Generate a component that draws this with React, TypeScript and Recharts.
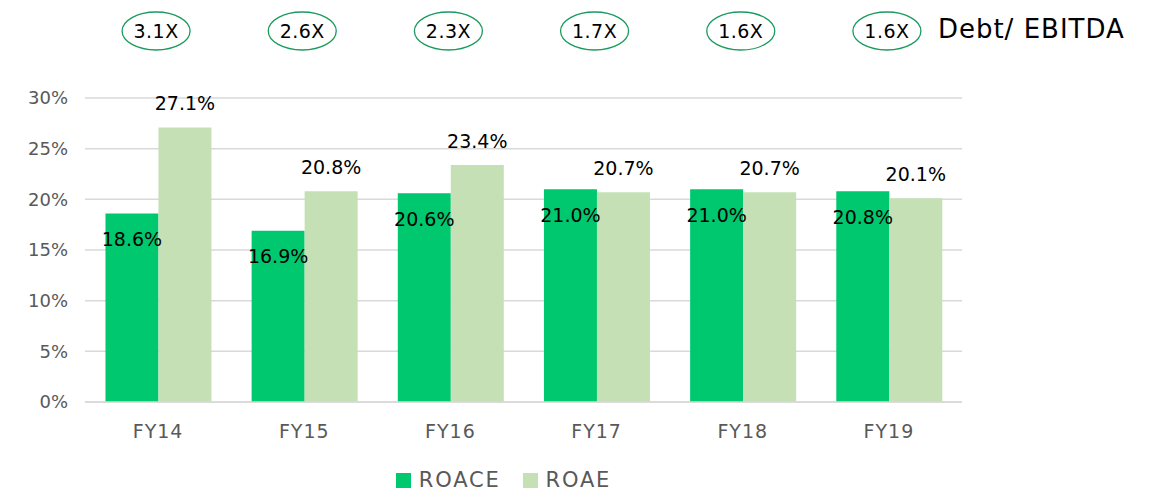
import React from 'react';
import {
  BarChart,
  Bar,
  XAxis,
  YAxis,
  CartesianGrid,
  Legend,
  LabelList,
} from 'recharts';

// fiscal years
const years = ['FY14', 'FY15', 'FY16', 'FY17', 'FY18', 'FY19'];
// return on average capital employed, %
const roace = [18.6, 16.9, 20.6, 21.0, 21.0, 20.8];
// return on average equity, %
const roae = [27.1, 20.8, 23.4, 20.7, 20.7, 20.1];
// net debt / EBITDA multiple shown above each year
const debtEbitda = ['3.1X', '2.6X', '2.3X', '1.7X', '1.6X', '1.6X'];
const yTicks = [0, 5, 10, 15, 20, 25, 30];

const data = years.map((year, i) => ({
  year,
  roace: roace[i],
  roae: roae[i],
  debt: debtEbitda[i],
}));

const GREEN = '#00c86e';
const LIGHT = '#c5e0b4';
const GREY = '#595959';
const FONT = '"DejaVu Sans", Verdana, sans-serif';

const DebtTick = (props: any) => {
  const { x, payload, index } = props;
  const label = debtEbitda[index] ?? '';
  const cx = x - 2;
  return (
    <g>
      <ellipse cx={cx} cy={31} rx={34} ry={19} fill="none" stroke="#1a9a5e" strokeWidth={1.3} />
      <text
        x={cx}
        y={38}
        textAnchor="middle"
        fontFamily={FONT}
        fontSize={19}
        letterSpacing={0.5}
        fill="#000"
      >
        {label}
      </text>
      {index === years.length - 1 && (
        <text
          x={cx + 51}
          y={38}
          fontFamily={FONT}
          fontSize={26}
          letterSpacing={1}
          fill="#000"
        >
          Debt/ EBITDA
        </text>
      )}
      <title>{payload.value}</title>
    </g>
  );
};

const renderLegend = () => (
  <div
    style={{
      display: 'flex',
      justifyContent: 'center',
      alignItems: 'center',
      fontFamily: FONT,
      fontSize: 21,
      letterSpacing: 1.8,
      color: GREY,
      paddingLeft: 45,
      paddingTop: 2,
    }}
  >
    <span style={{ display: 'inline-block', width: 15, height: 15, background: GREEN, marginRight: 8 }} />
    <span style={{ marginRight: 22 }}>ROACE</span>
    <span style={{ display: 'inline-block', width: 15, height: 15, background: LIGHT, marginRight: 8 }} />
    <span>ROAE</span>
  </div>
);

export default function App() {
  return (
    <div style={{ position: 'absolute', left: 0, top: 0, width: 1150, height: 492, background: '#fff' }}>
      <BarChart
        width={1150}
        height={492}
        data={data}
        margin={{ top: 0, right: 188, bottom: 0, left: 0 }}
        barCategoryGap="14%"
        barGap={0}
      >
        <CartesianGrid vertical={false} stroke="#d9d9d9" strokeWidth={1.5} />
        <XAxis
          xAxisId="top"
          orientation="top"
          dataKey="year"
          height={98}
          axisLine={false}
          tickLine={false}
          tick={<DebtTick />}
          interval={0}
        />
        <XAxis
          dataKey="year"
          height={64}
          axisLine={{ stroke: '#d9d9d9', strokeWidth: 1.5 }}
          tickLine={false}
          tick={{ fill: GREY, fontSize: 19, fontFamily: FONT, letterSpacing: 1 }}
          tickMargin={17}
          interval={0}
        />
        <YAxis
          width={85}
          domain={[0, 30]}
          ticks={yTicks}
          axisLine={false}
          tickLine={false}
          tickFormatter={(v: number) => `${v}%`}
          tick={{ fill: GREY, fontSize: 18, fontFamily: FONT }}
          tickMargin={11}
        />
        <Legend verticalAlign="bottom" content={renderLegend} />
        <Bar dataKey="roace" name="ROACE" fill={GREEN} isAnimationActive={false}>
          <LabelList
            dataKey="roace"
            position="insideTop"
            offset={19}
            formatter={(v: number) => `${v.toFixed(1)}%`}
            style={{ fill: '#000', fontSize: 19, fontFamily: FONT }}
          />
        </Bar>
        <Bar dataKey="roae" name="ROAE" fill={LIGHT} isAnimationActive={false}>
          <LabelList
            dataKey="roae"
            position="top"
            offset={17}
            formatter={(v: number) => `${v.toFixed(1)}%`}
            style={{ fill: '#000', fontSize: 19, fontFamily: FONT }}
          />
        </Bar>
      </BarChart>
    </div>
  );
}
